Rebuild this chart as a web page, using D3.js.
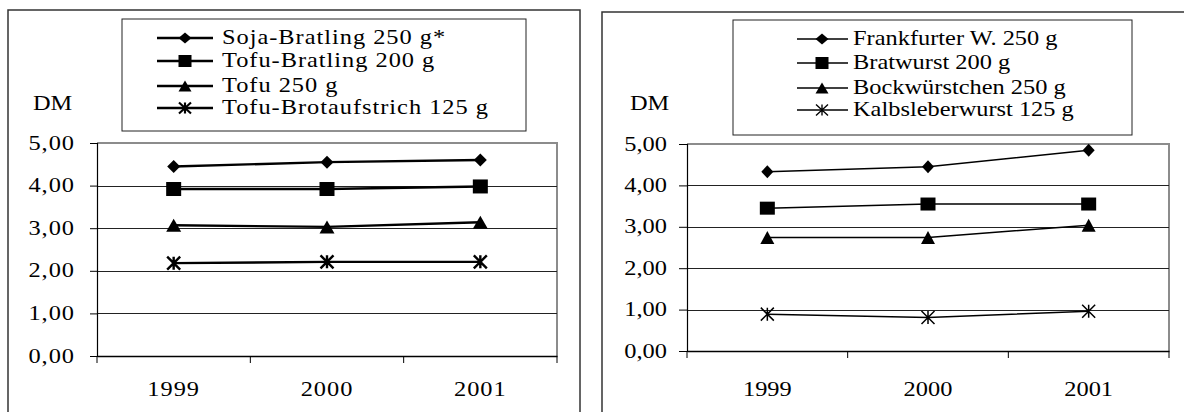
<!DOCTYPE html>
<html><head><meta charset="utf-8">
<script src="https://cdn.jsdelivr.net/npm/d3@7"></script>
<style>
html,body{margin:0;padding:0;background:#fff;}
svg{display:block;}
text{font-family:"Liberation Serif","Times New Roman",Times,serif;font-size:20px;fill:#000;}
</style></head>
<body>
<svg id="c" width="1184" height="412"></svg>
<script>
// ---- data ----
const years = ["1999", "2000", "2001"];
const yTicks = [0, 1, 2, 3, 4, 5];
const unitLabel = "DM";

const leftNames = ["Soja-Bratling 250 g*", "Tofu-Bratling 200 g", "Tofu 250 g", "Tofu-Brotaufstrich 125 g"];
const sojaBratling = [4.45, 4.55, 4.60];
const tofuBratling = [3.92, 3.92, 3.98];
const tofu = [3.07, 3.03, 3.14];
const tofuBrotaufstrich = [2.18, 2.21, 2.21];

const rightNames = ["Frankfurter W. 250 g", "Bratwurst 200 g", "Bockwürstchen 250 g", "Kalbsleberwurst 125 g"];
const frankfurter = [4.33, 4.45, 4.85];
const bratwurst = [3.45, 3.55, 3.55];
const bockwuerstchen = [2.74, 2.74, 3.04];
const kalbsleberwurst = [0.89, 0.81, 0.96];

const markerTypes = ["diamond", "square", "triangle", "asterisk"];

const de = d3.formatLocale({decimal: ",", thousands: ".", grouping: [3], currency: ["", " DM"]});
const fmt = de.format(".2f");

const svg = d3.select("#c");
const SX = 1.22;

function stext(g, x, y, str, anchor, ls) {
  const t = g.append("g").attr("transform", `translate(${x},${y}) scale(${SX},1)`)
    .append("text").attr("text-anchor", anchor).text(str);
  if (ls) t.style("letter-spacing", ls + "px");
  return t;
}

function marker(g, type, cx, cy, w, h, sw) {
  const hw = w / 2, hh = h / 2;
  if (type === "diamond") {
    g.append("path").attr("d", `M${cx},${cy - hh}L${cx + hw},${cy}L${cx},${cy + hh}L${cx - hw},${cy}Z`).attr("fill", "#000");
  } else if (type === "square") {
    g.append("rect").attr("x", cx - hw).attr("y", cy - hh).attr("width", w).attr("height", h).attr("fill", "#000");
  } else if (type === "triangle") {
    g.append("path").attr("d", `M${cx},${cy - hh}L${cx + hw},${cy + hh}L${cx - hw},${cy + hh}Z`).attr("fill", "#000");
  } else {
    g.append("path").attr("d",
      `M${cx},${cy - hh}L${cx},${cy + hh}M${cx - hw},${cy - hh}L${cx + hw},${cy + hh}M${cx + hw},${cy - hh}L${cx - hw},${cy + hh}`)
      .attr("stroke", "#000").attr("stroke-width", sw).attr("fill", "none");
  }
}

function chart(cfg) {
  const g = svg.append("g");
  g.append("rect").attr("x", cfg.frame[0]).attr("y", cfg.frame[1]).attr("width", cfg.frame[2]).attr("height", cfg.frame[3])
    .attr("fill", "none").attr("stroke", "#333").attr("stroke-width", 1.5);

  const x = d3.scaleBand().domain(years).range([cfg.px0, cfg.px1]).padding(0);
  const y = d3.scaleLinear().domain([0, 5]).range([cfg.py1, cfg.py0]);

  g.append("path").attr("d", `M${cfg.px0},${cfg.py0}H${cfg.px1}V${cfg.py1}`)
    .attr("fill", "none").attr("stroke", "#8c8c8c").attr("stroke-width", 2);

  g.append("g").selectAll("line").data(yTicks.filter(d => d > 0 && d < 5)).join("line")
    .attr("x1", cfg.px0).attr("x2", cfg.px1).attr("y1", d => Math.round(y(d)) + 0.5).attr("y2", d => Math.round(y(d)) + 0.5)
    .attr("stroke", "#222").attr("stroke-width", 1);

  const ya = g.append("g").attr("transform", `translate(${cfg.px0},0)`)
    .call(d3.axisLeft(y).tickValues(yTicks).tickSize(cfg.tickLen).tickFormat(""));
  ya.select(".domain").attr("stroke", "#000").attr("stroke-width", 1.2);
  ya.selectAll(".tick line").attr("stroke", "#000");
  const xa = g.append("g").attr("transform", `translate(0,${cfg.py1})`)
    .call(d3.axisBottom(x).tickValues([]).tickSizeOuter(0));
  xa.select(".domain").attr("stroke", "#000").attr("stroke-width", 1.5);
  const xb = [cfg.px0, ...years.map(yy => x(yy) + x.bandwidth())];
  g.append("g").selectAll("line").data(xb).join("line")
    .attr("x1", d => d).attr("x2", d => d).attr("y1", cfg.py1).attr("y2", cfg.py1 + 7)
    .attr("stroke", "#000").attr("stroke-width", 1);

  yTicks.forEach(v => stext(g, cfg.tlx, y(v) + 6.5, fmt(v), "end", cfg.ls));
  years.forEach(yy => stext(g, x(yy) + x.bandwidth() / 2, 396, yy, "middle", cfg.ls));
  stext(g, cfg.dmx, 110, unitLabel, "start", 0);

  const line = d3.line().x((d, i) => x(years[i]) + x.bandwidth() / 2).y(d => y(d));
  cfg.series.forEach((s, k) => {
    g.append("path").datum(s).attr("d", line).attr("fill", "none").attr("stroke", "#000").attr("stroke-width", cfg.lw);
    s.forEach((v, i) => {
      const m = cfg.mk[k];
      marker(g, markerTypes[k], x(years[i]) + x.bandwidth() / 2, y(v), m[0], m[1], cfg.lw);
    });
  });

  g.append("rect").attr("x", cfg.leg[0]).attr("y", cfg.leg[1]).attr("width", cfg.leg[2]).attr("height", cfg.leg[3])
    .attr("fill", "#fff").attr("stroke", "#222").attr("stroke-width", 1);
  cfg.names.forEach((n, k) => {
    const ry = cfg.rows[k];
    g.append("line").attr("x1", cfg.lx1).attr("x2", cfg.lx2).attr("y1", ry).attr("y2", ry)
      .attr("stroke", "#000").attr("stroke-width", cfg.lw);
    const m = cfg.lmk[k];
    marker(g, markerTypes[k], cfg.lmx, ry, m[0], m[1], cfg.lw * 0.9);
    stext(g, cfg.ltx, ry + 6, n, "start", cfg.ls);
  });
}

chart({
  frame: [8, 10, 572, 430],
  px0: 97, px1: 557, py0: 143, py1: 356,
  tickLen: 7, tlx: 75, dmx: 33, ls: 0.8, lw: 2.4,
  series: [sojaBratling, tofuBratling, tofu, tofuBrotaufstrich],
  names: leftNames,
  mk: [[13, 13], [15, 14], [15, 13], [13, 13]],
  lmk: [[13, 11], [13, 12], [13, 11], [12, 11]],
  leg: [122, 19, 404, 112],
  rows: [38, 61, 86, 108],
  lx1: 157, lx2: 213, lmx: 185, ltx: 222
});

chart({
  frame: [602, 12, 600, 430],
  px0: 687, px1: 1169, py0: 144, py1: 351,
  tickLen: 8, tlx: 667, dmx: 630, ls: 0, lw: 1.5,
  series: [frankfurter, bratwurst, bockwuerstchen, kalbsleberwurst],
  names: rightNames,
  mk: [[12, 13], [15, 13], [14, 13], [13, 13]],
  lmk: [[13, 11], [13, 12], [13, 11], [12, 11]],
  leg: [733, 20, 399, 115],
  rows: [39, 63, 88, 110],
  lx1: 797, lx2: 848, lmx: 822, ltx: 853
});
</script>
</body></html>
